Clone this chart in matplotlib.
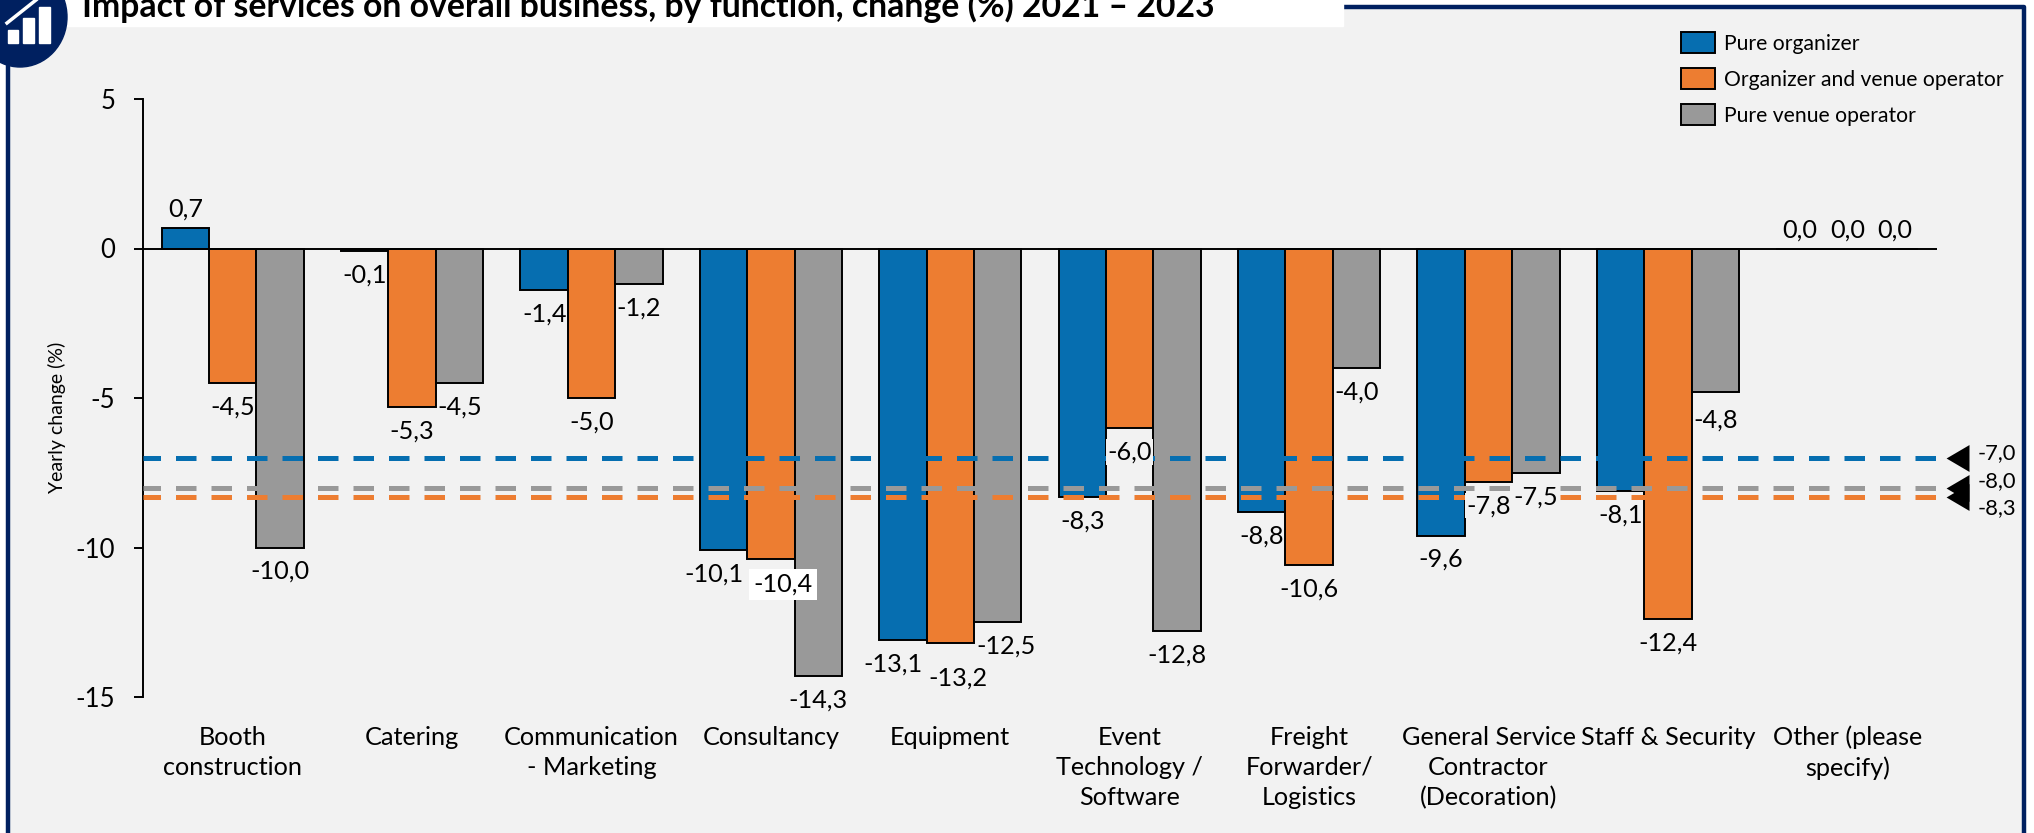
import matplotlib
matplotlib.use("Agg")
import matplotlib.pyplot as plt
import numpy as np
from matplotlib.patches import Rectangle, Ellipse, Patch

W, H = 2034, 833

categories = ["Booth\nconstruction", "Catering", "Communication\n- Marketing", "Consultancy", "Equipment",
              "Event\nTechnology /\nSoftware", "Freight\nForwarder/\nLogistics",
              "General Service\nContractor\n(Decoration)", "Staff & Security", "Other (please\nspecify)"]
pure_organizer = [0.7, -0.1, -1.4, -10.1, -13.1, -8.3, -8.8, -9.6, -8.1, 0.0]
organizer_venue = [-4.5, -5.3, -5.0, -10.4, -13.2, -6.0, -10.6, -7.8, -12.4, 0.0]
pure_venue = [-10.0, -4.5, -1.2, -14.3, -12.5, -12.8, -4.0, -7.5, -4.8, 0.0]
averages = [-7.0, -8.3, -8.0]
yticks = [5, 0, -5, -10, -15]
series_names = ["Pure organizer", "Organizer and venue operator", "Pure venue operator"]
colors = ["#066EB0", "#ED7D31", "#999999"]
title = "Impact of services on overall business, by function, change (%) 2021 \u2013 2023"

plt.rcParams['font.family'] = ['Lato', 'DejaVu Sans']

BG = "#F2F2F2"
NAVY = "#002060"
PT = 0.72  # points per pixel at dpi 100


def fmt(v):
    return "{0:.1f}".format(v).replace(".", ",")


fig = plt.figure(figsize=(W / 100, H / 100), dpi=100, facecolor=BG)

### Frame, title box and icon, in pixels of the figure
bg = fig.add_axes([0, 0, 1, 1], zorder=0)
bg.set_xlim(0, W)
bg.set_ylim(H, 0)
bg.axis("off")
bg.add_patch(Rectangle((0, 0), W, 7, color="white"))
bg.add_patch(Rectangle((2025, 0), 9, H, color="white"))
bg.add_patch(Rectangle((0, 0), 7, H, color="white"))
bg.plot([8, 8], [40, H], color=NAVY, lw=3.2)
bg.plot([8, 2024, 2024], [7, 7, H], color=NAVY, lw=3.2)
bg.add_patch(Rectangle((40, 0), 1303, 26, color="white", zorder=3))
bg.add_patch(Ellipse((20, 17), 94, 100, color=NAVY, zorder=4))
for x0, x1, y0 in [(8, 18, 30), (23, 34, 18), (39, 50, 7)]:
    bg.add_patch(Rectangle((x0, y0), x1 - x0, 43 - y0, color="white", zorder=5))
bg.plot([7, 36], [23, 0], color="white", lw=2.5, zorder=5)
bg.text(82, 17, title, fontsize=24.3, fontweight="bold", color="black", va="baseline", zorder=6)

### Chart
ax = fig.add_axes([143 / W, 1 - 697 / H, 1794 / W, 598 / H], zorder=1)
ax.patch.set_alpha(0)
x = np.arange(len(categories))
bar_w = 0.264
series = [pure_organizer, organizer_venue, pure_venue]
for i, vals in enumerate(series):
    ax.bar(x + (i - 1) * bar_w, vals, bar_w, color=colors[i], edgecolor="black", linewidth=1.4, zorder=2)

triangle = [(-23, 0), (0, -13.5), (0, 13.5)]
for val, col in zip(averages, colors):
    ax.plot([-0.5, 9.5], [val, val], color=col, lw=3.6, linestyle=(0.6, (4.1, 3.0)), zorder=3, clip_on=False)
    ax.plot([9.678], [val], marker=triangle, color="black", ms=33, mew=0, clip_on=False, zorder=4)

ax.axhline(0, color="black", lw=1.4, zorder=4)
ax.set_xlim(-0.5, 9.5)
ax.set_ylim(-15, 5)
for s in ["top", "right", "bottom"]:
    ax.spines[s].set_visible(False)
ax.spines["left"].set_linewidth(1.4)
ax.set_yticks(yticks)
ax.set_yticklabels([str(t) for t in yticks], fontsize=18.5)
ax.tick_params(axis="y", length=6.5, width=1.4, pad=13.5)
ax.set_xticks(x)
ax.set_xticklabels(categories, fontsize=18.2, linespacing=1.37)
ax.tick_params(axis="x", length=0, pad=20.8)
ax.set_ylabel("Yearly change (%)", fontsize=14)
ax.yaxis.set_label_coords(-0.043, 0.467)

### Value labels, moved by hand in the original where they would collide (dx, dy in pixels)
nudge = {(0, 3): (-10, 24), (1, 3): (12, 25), (0, 4): (-10, 24), (1, 4): (8, 35), (2, 4): (8, 24), (2, 8): (0, 28)}
boxes = {(1, 3): dict(facecolor="white", edgecolor="none", pad=3),
         (1, 5): dict(facecolor=BG, edgecolor="none", pad=1),
         (1, 7): dict(facecolor=BG, edgecolor="none", pad=1),
         (2, 7): dict(facecolor=BG, edgecolor="none", pad=1)}
for i, vals in enumerate(series):
    for j, v in enumerate(vals):
        dx, dy = nudge.get((i, j), (0, 24 if v < 0 else -18))
        ax.annotate(fmt(v), (j + (i - 1) * bar_w, v), xytext=(dx * PT, -dy * PT), textcoords="offset points",
                    ha="center", va="center", fontsize=18.2, zorder=5, bbox=boxes.get((i, j)))

for val, label_y in zip(averages, [453, 508, 481]):
    bg.text(1978, label_y, fmt(val), fontsize=15.8, va="center", ha="left")

### Legend
handles = [Patch(facecolor=c, edgecolor="black", linewidth=1.4) for c in colors]
fig.legend(handles, series_names, loc="upper left", bbox_to_anchor=(1681 / W, 1 - 32 / H), frameon=False,
           fontsize=15.2, handlelength=1.61, handleheight=1.18, handletextpad=0.43, labelspacing=0.67,
           borderaxespad=0, borderpad=0)

plt.savefig("out.png", dpi=100, facecolor=fig.get_facecolor())
